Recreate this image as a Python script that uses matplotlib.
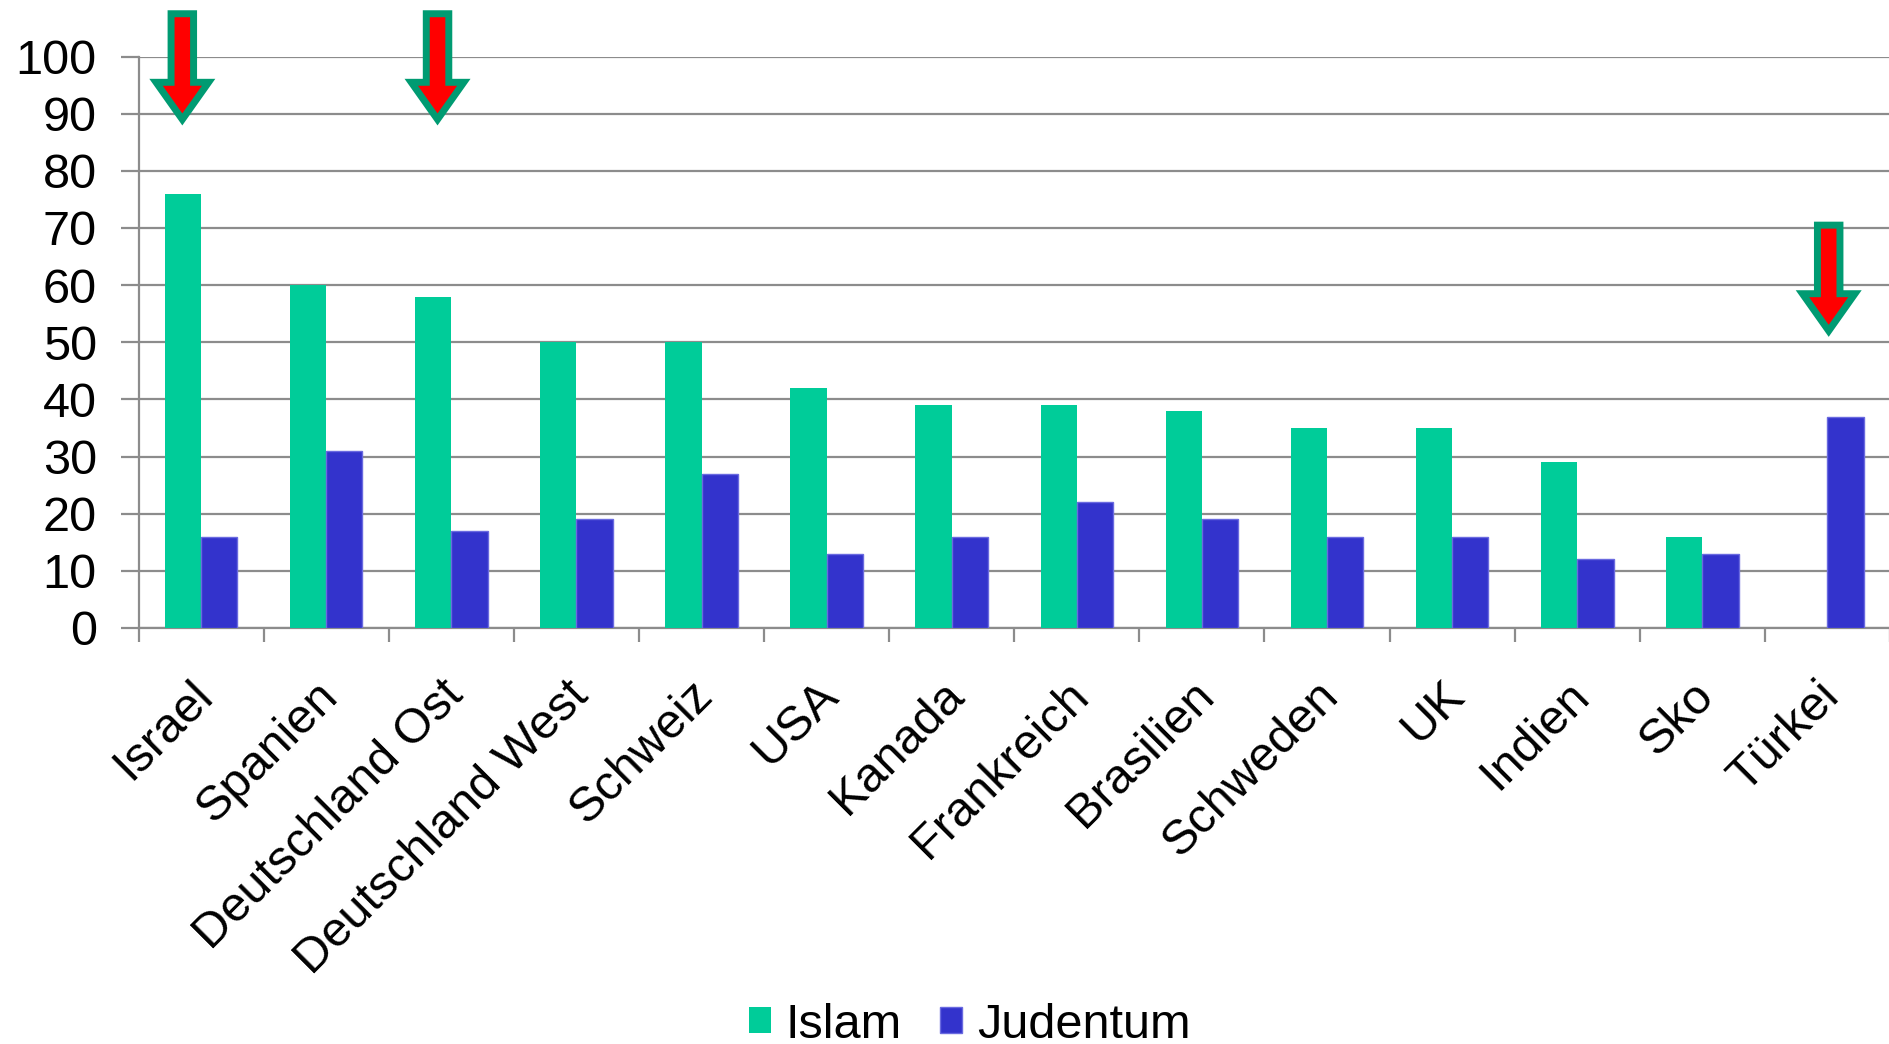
import numpy as np
import matplotlib.pyplot as plt
import matplotlib.transforms as mtransforms
from matplotlib.patches import FancyArrow

plt.rcParams['font.family'] = ['Liberation Sans', 'DejaVu Sans']

# Survey values per country (percent)
countries = ["Israel", "Spanien", "Deutschland Ost", "Deutschland West", "Schweiz",
             "USA", "Kanada", "Frankreich", "Brasilien", "Schweden", "UK",
             "Indien", "Sko", "Türkei"]
islam = [76, 60, 58, 50, 50, 42, 39, 39, 38, 35, 35, 29, 16, 0]
judentum = [16, 31, 17, 19, 27, 13, 16, 22, 19, 16, 16, 12, 13, 37]

# arrows: (category index, x offset, top, tip)
arrows = [(0, -0.15, 107.5, 89), (2, -0.11, 107.5, 89), (13, 0.01, 70.5, 52)]

x = np.arange(len(countries))
bw = 0.29

fig = plt.figure(figsize=(18.9, 10.44), dpi=100)
ax = fig.add_axes([0.0733, 0.3985, 0.9267, 0.5473])

ax.bar(x - bw / 2, islam, bw, color='#00CC99', label='Islam', zorder=3)
ax.bar(x + bw / 2, judentum, bw, color='#3333CC', edgecolor='#6a6ae0',
       linewidth=1, label='Judentum', zorder=3)

ax.set_xlim(-0.5, len(countries) - 0.5)
ax.set_ylim(0, 100)
ax.set_yticks(range(0, 101, 10))
ax.yaxis.grid(True, color='#8c8c8c', linewidth=1.6, zorder=0)

for s in ['top', 'right']:
    ax.spines[s].set_visible(False)
ax.spines['left'].set_color('#8c8c8c')
ax.spines['bottom'].set_color('#8c8c8c')
ax.spines['left'].set_linewidth(1.6)
ax.spines['bottom'].set_linewidth(1.6)

ax.tick_params(axis='y', labelsize=35, length=13, width=1.6, color='#8c8c8c', pad=17)
ax.set_xticks(x)
ax.set_xticklabels(countries, rotation=45, ha='right', rotation_mode='anchor', fontsize=35)
ax.tick_params(axis='x', which='major', length=0, pad=30)
ax.set_xticks(np.arange(-0.5, len(countries), 1), minor=True)
ax.tick_params(axis='x', which='minor', length=10, width=1.6, color='#8c8c8c')

# nudge the rotated country names a little left
shift = mtransforms.ScaledTranslation(-0.11, -0.03, fig.dpi_scale_trans)
for lab in ax.get_xticklabels():
    lab.set_transform(lab.get_transform() + shift)

for i, off, top, tip in arrows:
    arr = FancyArrow(i + off, top, 0, tip - top, width=0.18, head_width=0.42,
                     head_length=6.5, length_includes_head=True,
                     facecolor='#FF0000', edgecolor='#009B72', linewidth=5,
                     clip_on=False, zorder=5)
    ax.add_patch(arr)

fig.legend(loc='center', bbox_to_anchor=(0.513, 0.018), ncol=2, frameon=False,
           fontsize=35, handlelength=0.45, handleheight=0.45, handletextpad=0.3,
           columnspacing=0.8)

fig.savefig('out.png', dpi=100)
